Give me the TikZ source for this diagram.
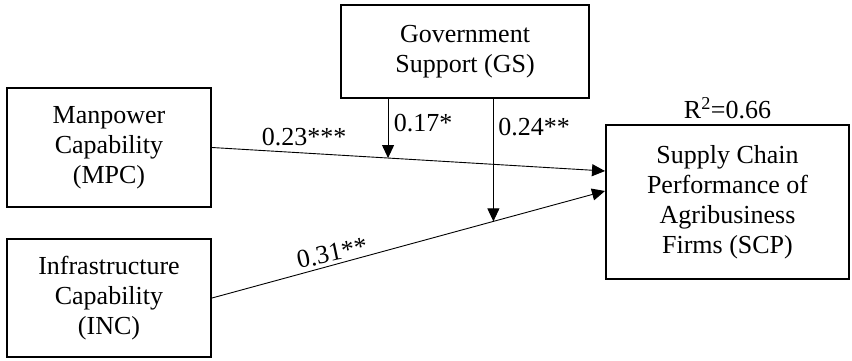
\documentclass[tikz,border=0pt]{standalone}
\usepackage{fontspec}
\setmainfont{Liberation Serif}
\usepackage{tikz}
\usetikzlibrary{arrows.meta, positioning, calc}

\tikzset{
    construct/.style={draw, line width=2pt, align=center, inner sep=0pt},
    path/.style={line width=0.9pt, -{Triangle[length=13pt, width=12pt]}},
    coef/.style={inner sep=1pt}
}

\begin{document}
\begin{tikzpicture}[x=1pt, y=-1pt, font=\fontsize{26}{30}\selectfont]

    \useasboundingbox (0,0) rectangle (852,360);

    % Constructs
    \node[construct, minimum width=248pt, minimum height=93pt] (gs) at (465,51.5) {Government\\Support (GS)};
    \node[construct, minimum width=204pt, minimum height=119pt] (mpc) at (109,147.5) {Manpower\\Capability\\(MPC)};
    \node[construct, minimum width=204pt, minimum height=118pt] (inc) at (109,298) {Infrastructure\\Capability\\(INC)};
    \node[construct, minimum width=243pt, minimum height=154pt] (scp) at (727.5,202) {Supply Chain\\Performance of\\Agribusiness\\Firms (SCP)};
    \node[coef, above=4pt of scp] (rsq) {R\textsuperscript{2}=0.66};

    % Direct paths
    \coordinate (scpA) at ($(scp.west)+(0,-31)$);
    \coordinate (scpB) at ($(scp.west)+(0,-11)$);
    \draw[path] (mpc.east) -- (scpA);
    \draw[path] (inc.east) -- (scpB);

    % Moderation by GS
    \coordinate (modA) at ($(mpc.east)!0.448!(scpA)$);
    \coordinate (modB) at ($(inc.east)!0.716!(scpB)$);
    \draw[path] (gs.south -| modA) -- (modA);
    \draw[path] (gs.south -| modB) -- (modB);

    % Coefficients
    \node[coef] (c23) at (304,137) {0.23***};
    \node[coef] (c17) at (423,123) {0.17*};
    \node[coef] (c24) at (534,127) {0.24**};
    \node[coef, rotate=12] (c31) at (332,253) {0.31**};

\end{tikzpicture}
\end{document}
